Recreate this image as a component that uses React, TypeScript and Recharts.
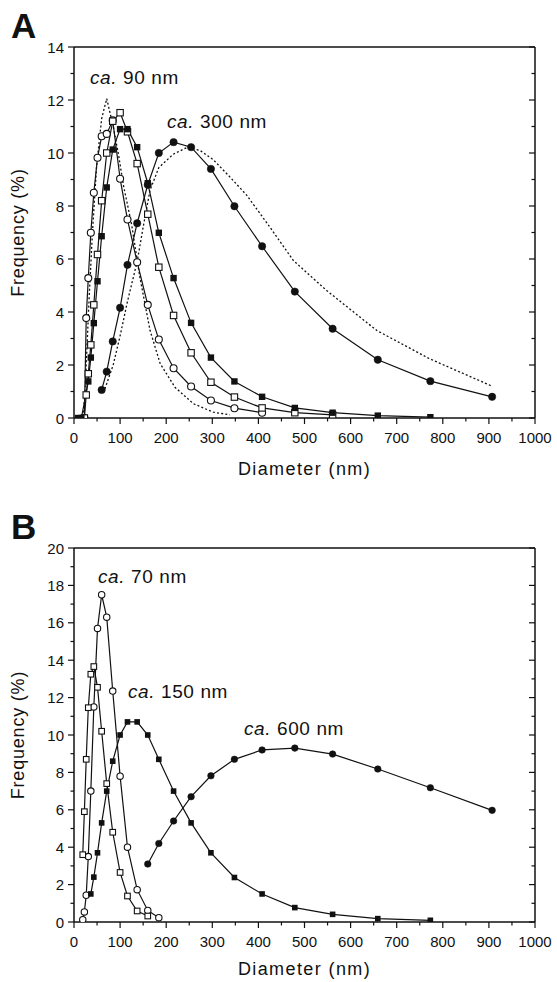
import React from "react";
import { LineChart, Line, XAxis, YAxis } from "recharts";

const FONT = "'Liberation Sans', Arial, Helvetica, sans-serif";
const INK = "#111";

// x axis ticks (nm), shared by both panels
const xTicks = [0, 50, 100, 150, 200, 250, 300, 350, 400, 450, 500, 550, 600, 650, 700, 750, 800, 850, 900, 950, 1000];
const yTicksA = [0, 1, 2, 3, 4, 5, 6, 7, 8, 9, 10, 11, 12, 13, 14];
const yTicksB = [0, 1, 2, 3, 4, 5, 6, 7, 8, 9, 10, 11, 12, 13, 14, 15, 16, 17, 18, 19, 20];

// ---- panel A: [diameter nm, frequency %]
const aOpenCircles: [number, number][] = [
  [22.5, 0], [26.5, 3.77], [31, 5.28], [36.5, 6.99], [43, 8.5], [51, 9.82], [60, 10.63], [71, 10.72],
  [84, 11.23], [100, 9.03], [116, 7.49], [137, 5.88], [160, 4.27], [184, 2.96], [216, 1.88], [254, 1.19],
  [297, 0.66], [348, 0.37], [408, 0.2],
];
const aOpenSquares: [number, number][] = [
  [22.5, 0], [26.5, 0.87], [31, 1.67], [36.5, 2.76], [43, 4.27], [51, 6.17], [60, 8.2], [71, 10.0],
  [84, 11.2], [100, 11.52], [116, 10.8], [137, 9.6], [160, 7.69], [184, 5.69], [216, 3.87], [254, 2.46],
  [297, 1.35], [348, 0.79], [408, 0.38], [479, 0.2], [561, 0.12],
];
const aFilledSquares: [number, number][] = [
  [9, 0], [16, 0], [31, 1.38], [36.5, 2.28], [43, 3.58], [51, 5.16], [60, 6.86], [71, 8.7], [84, 10.13],
  [100, 10.9], [116, 10.9], [137, 10.22], [160, 8.86], [184, 6.99], [216, 5.28], [254, 3.59], [297, 2.28],
  [348, 1.38], [408, 0.8], [479, 0.38], [561, 0.2], [659, 0.09], [773, 0.03],
];
const aFilledCircles: [number, number][] = [
  [60, 1.06], [71, 1.75], [84, 2.89], [100, 4.16], [116, 5.78], [137, 7.35], [160, 8.8], [184, 10.0],
  [216, 10.41], [254, 10.22], [297, 9.4], [348, 7.99], [408, 6.48], [479, 4.77], [561, 3.37], [659, 2.2],
  [773, 1.39], [907, 0.8],
];
// dotted fitted curves
const aFitNarrow: [number, number][] = [
  [20, 0.05], [24, 1.0], [28, 2.6], [33, 4.6], [40, 7.0], [49, 9.5], [60, 11.3], [71, 12.05], [85, 11.0],
  [96, 10.0], [107, 8.8], [125, 7.3], [143, 5.3], [165, 3.3], [187, 2.05], [219, 1.16], [259, 0.54],
  [302, 0.22], [338, 0.12],
];
const aFitBroad: [number, number][] = [
  [67, 1.1], [85, 2.0], [100, 3.1], [116, 4.4], [137, 5.9], [150, 7.2], [165, 8.6], [184, 9.45], [215, 9.95],
  [244, 10.2], [273, 10.1], [302, 9.75], [338, 9.1], [375, 8.4], [425, 7.2], [476, 5.94], [548, 4.81],
  [657, 3.3], [772, 2.23], [907, 1.2],
];

// ---- panel B
const bOpenCircles: [number, number][] = [
  [19, 0.12], [22.5, 0.54], [26.5, 1.43], [31, 3.5], [36.5, 7.0], [43, 11.5], [51, 15.7], [60, 17.5],
  [71, 16.3], [84, 12.35], [100, 7.8], [116, 4.0], [137, 1.73], [160, 0.62], [184, 0.23],
];
const bOpenSquares: [number, number][] = [
  [19, 3.6], [22.5, 5.9], [26.5, 8.7], [31, 11.46], [36.5, 13.25], [43, 13.66], [51, 12.55], [60, 10.2],
  [71, 7.4], [84, 4.8], [100, 2.65], [116, 1.39], [137, 0.59], [160, 0.32],
];
const bFilledSquares: [number, number][] = [
  [36.5, 1.5], [43, 2.4], [51, 3.7], [60, 5.3], [71, 7.0], [84, 8.6], [100, 10.0], [116, 10.7], [137, 10.7],
  [160, 10.0], [184, 8.7], [216, 7.0], [254, 5.3], [297, 3.7], [348, 2.38], [408, 1.5], [479, 0.77],
  [561, 0.41], [659, 0.18], [773, 0.09],
];
const bFilledCircles: [number, number][] = [
  [160, 3.1], [184, 4.2], [216, 5.4], [254, 6.7], [297, 7.82], [348, 8.7], [408, 9.2], [479, 9.3],
  [561, 8.98], [659, 8.18], [773, 7.18], [907, 5.97],
];

const pts = (arr: [number, number][]) => arr.map(([x, y]) => ({ x, y }));

type Kind = "circleOpen" | "circleFilled" | "squareOpen" | "squareFilled";

function makeDot(kind: Kind, size: number) {
  return (p: any) => {
    const { cx, cy, index } = p;
    const key = `${kind}-${index}`;
    if (cx == null || cy == null) return <g key={key} />;
    const h = size / 2;
    if (kind === "circleOpen")
      return <circle key={key} cx={cx} cy={cy} r={h} fill="#fff" stroke={INK} strokeWidth={1.1} />;
    if (kind === "circleFilled")
      return <circle key={key} cx={cx} cy={cy} r={h} fill={INK} stroke={INK} strokeWidth={0.5} />;
    if (kind === "squareOpen")
      return <rect key={key} x={cx - h} y={cy - h} width={size} height={size} fill="#fff" stroke={INK} strokeWidth={1.1} />;
    return <rect key={key} x={cx - h} y={cy - h} width={size} height={size} fill={INK} />;
  };
}

function BottomTick({ x, y, payload, labelDy }: any) {
  const major = payload.value % 100 === 0;
  return (
    <g>
      <line x1={x} x2={x} y1={y} y2={y + (major ? 6 : 3.5)} stroke={INK} strokeWidth={1.2} />
      {major && (
        <text x={x} y={y + labelDy} textAnchor="middle" fontSize={15} fontFamily={FONT} fill={INK}>
          {payload.value}
        </text>
      )}
    </g>
  );
}

function TopTick({ x, y, payload }: any) {
  const major = payload.value % 100 === 0;
  return <line x1={x} x2={x} y1={y} y2={y + (major ? 6 : 3.5)} stroke={INK} strokeWidth={1.2} />;
}

function LeftTick({ x, y, payload }: any) {
  const major = payload.value % 2 === 0;
  return (
    <g>
      <line x1={x - (major ? 6 : 3.5)} x2={x} y1={y} y2={y} stroke={INK} strokeWidth={1.2} />
      {major && (
        <text x={x - 10} y={y + 5.5} textAnchor="end" fontSize={15} fontFamily={FONT} fill={INK}>
          {payload.value}
        </text>
      )}
    </g>
  );
}

function RightTick({ x, y, payload }: any) {
  const major = payload.value % 2 === 0;
  return <line x1={x - (major ? 6 : 3.5)} x2={x} y1={y} y2={y} stroke={INK} strokeWidth={1.2} />;
}

const yLabel = (p: any) => {
  const vb = p.viewBox;
  const cx = vb.x + 24;
  const cy = vb.y + vb.height / 2;
  return (
    <text x={cx} y={cy} transform={`rotate(-90 ${cx} ${cy})`} textAnchor="middle" fontSize={18} fontFamily={FONT} fill={INK} letterSpacing={0.8}>
      Frequency (%)
    </text>
  );
};

const xLabel = (dy: number) => (p: any) => {
  const vb = p.viewBox;
  return (
    <text x={vb.x + vb.width / 2} y={vb.y + dy} textAnchor="middle" fontSize={18} fontFamily={FONT} fill={INK} letterSpacing={1.4}>
      Diameter (nm)
    </text>
  );
};

const axisLine = { stroke: INK, strokeWidth: 1.5 };

interface Series {
  data: [number, number][];
  kind?: Kind;
  size?: number;
  dotted?: boolean;
}

function Panel({ height, marginTop, bottomH, yMax, yTicks, series, labelDy, titleDy }: {
  height: number; marginTop: number; bottomH: number; yMax: number; yTicks: number[];
  series: Series[]; labelDy: number; titleDy: number;
}) {
  return (
    <LineChart width={557} height={height} margin={{ top: marginTop, right: 0, bottom: 0, left: 0 }}>
      <XAxis
        type="number" dataKey="x" domain={[0, 1000]} ticks={xTicks} interval={0} allowDataOverflow
        height={bottomH} tickSize={0} tickMargin={0} tickLine={false} axisLine={axisLine}
        tick={(p: any) => <BottomTick {...p} labelDy={labelDy} />}
        label={xLabel(titleDy)}
      />
      <XAxis
        xAxisId="top" orientation="top" type="number" domain={[0, 1000]} ticks={xTicks} interval={0}
        allowDataOverflow height={30} tickSize={0} tickMargin={0} tickLine={false} axisLine={axisLine}
        tick={TopTick}
      />
      <YAxis
        type="number" domain={[0, yMax]} ticks={yTicks} interval={0} allowDataOverflow width={74}
        tickSize={0} tickMargin={0} tickLine={false} axisLine={axisLine} tick={LeftTick} label={yLabel}
      />
      <YAxis
        yAxisId="right" orientation="right" type="number" domain={[0, yMax]} ticks={yTicks} interval={0}
        allowDataOverflow width={22} tickSize={0} tickMargin={0} tickLine={false} axisLine={axisLine}
        tick={RightTick}
      />
      {series.map((s, i) =>
        s.dotted ? (
          <Line
            key={i} data={pts(s.data)} dataKey="y" type="linear" stroke={INK} strokeWidth={1.3}
            strokeDasharray="2 2.2" dot={false} activeDot={false} isAnimationActive={false}
          />
        ) : (
          <Line
            key={i} data={pts(s.data)} dataKey="y" type="linear" stroke={INK} strokeWidth={1.2}
            dot={makeDot(s.kind as Kind, s.size ?? 6.5)} activeDot={false} isAnimationActive={false}
          />
        )
      )}
    </LineChart>
  );
}

export default function App() {
  const seriesA: Series[] = [
    { data: aFitNarrow, dotted: true },
    { data: aFitBroad, dotted: true },
    { data: aFilledCircles, kind: "circleFilled", size: 7.4 },
    { data: aOpenCircles, kind: "circleOpen", size: 7 },
    { data: aOpenSquares, kind: "squareOpen", size: 6.4 },
    { data: aFilledSquares, kind: "squareFilled", size: 6.4 },
  ];
  const seriesB: Series[] = [
    { data: bFilledCircles, kind: "circleFilled", size: 6.6 },
    { data: bOpenCircles, kind: "circleOpen", size: 6.4 },
    { data: bOpenSquares, kind: "squareOpen", size: 5.6 },
    { data: bFilledSquares, kind: "squareFilled", size: 5.6 },
  ];
  const ann = { fontSize: 19, fontFamily: FONT, fill: INK, letterSpacing: 0.6 };
  return (
    <div style={{ position: "absolute", left: 0, top: 0, width: 557, height: 982, background: "#fff", fontFamily: FONT }}>
      <div style={{ position: "absolute", left: 0, top: 0 }}>
        <Panel height={480} marginTop={17} bottomH={62} yMax={14} yTicks={yTicksA} series={seriesA} labelDy={24.5} titleDy={57} />
      </div>
      <div style={{ position: "absolute", left: 0, top: 480 }}>
        <Panel height={502} marginTop={38} bottomH={60} yMax={20} yTicks={yTicksB} series={seriesB} labelDy={25} titleDy={53} />
      </div>
      <svg width={557} height={982} style={{ position: "absolute", left: 0, top: 0, pointerEvents: "none" }}>
        <text x={11} y={38} fontSize={35} fontWeight="bold" fontFamily={FONT} fill={INK}>A</text>
        <text x={11} y={539} fontSize={35} fontWeight="bold" fontFamily={FONT} fill={INK}>B</text>
        <text x={90} y={84} {...ann}><tspan fontStyle="italic">ca.</tspan> 90 nm</text>
        <text x={167} y={128} {...ann}><tspan fontStyle="italic">ca.</tspan> 300 nm</text>
        <text x={98} y={583} {...ann}><tspan fontStyle="italic">ca.</tspan> 70 nm</text>
        <text x={128} y={698} {...ann}><tspan fontStyle="italic">ca.</tspan> 150 nm</text>
        <text x={244} y={735} {...ann}><tspan fontStyle="italic">ca.</tspan> 600 nm</text>
      </svg>
    </div>
  );
}
